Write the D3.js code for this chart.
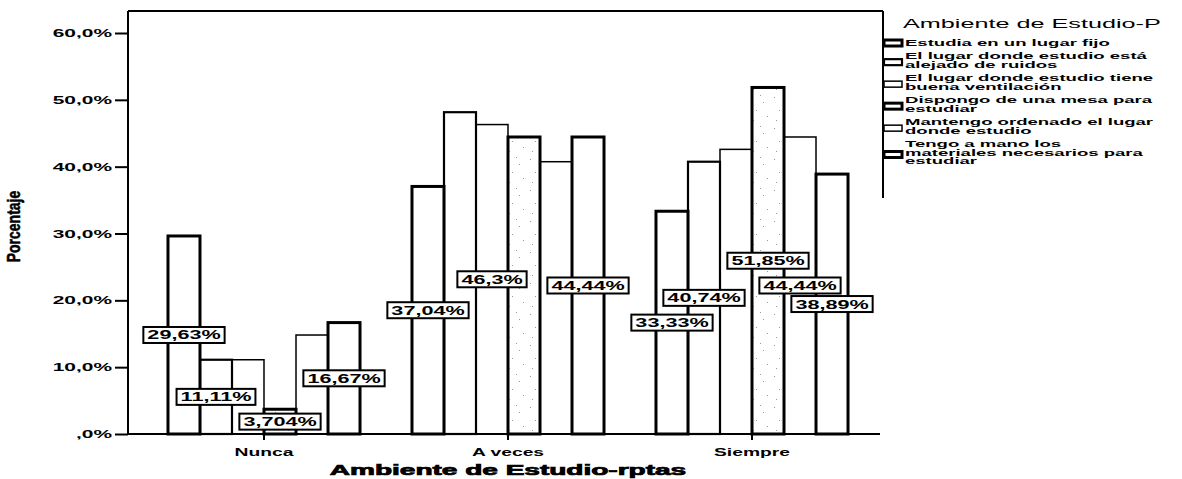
<!DOCTYPE html>
<html><head><meta charset="utf-8">
<script src="https://cdn.jsdelivr.net/npm/d3@7"></script>
<style>html,body{margin:0;padding:0;background:#fff;} svg{display:block;font-family:"Liberation Sans",Arial,sans-serif;}</style>
</head><body><svg id="chart" width="1182" height="479"></svg>
<script>
// ---------------- data ----------------
const categories = ["Nunca", "A veces", "Siempre"];
const seriesNames = [
  "Estudia en un lugar fijo",
  "El lugar  donde estudio está alejado de ruidos",
  "El lugar donde estudio tiene buena ventilación",
  "Dispongo de una mesa para estudiar",
  "Mantengo ordenado el lugar donde estudio",
  "Tengo a mano  los materiales  necesarios para estudiar"
];
const legendLines = [
  ["Estudia en un lugar fijo"],
  ["El lugar  donde estudio está", "alejado de ruidos"],
  ["El lugar donde estudio tiene", "buena ventilación"],
  ["Dispongo de una mesa para", "estudiar"],
  ["Mantengo ordenado el lugar", "donde estudio"],
  ["Tengo a mano  los", "materiales  necesarios para", "estudiar"]
];
const nuncaValues   = [29.63, 11.11, 11.11, 3.704, 14.81, 16.67];
const aVecesValues  = [37.04, 48.15, 46.30, 44.44, 40.74, 44.44];
const siempreValues = [33.33, 40.74, 42.59, 51.85, 44.44, 38.89];
const nuncaLabels   = ["29,63%", "11,11%", null, "3,704%", null, "16,67%"];
const aVecesLabels  = ["37,04%", null, "46,3%", null, null, "44,44%"];
const siempreLabels = ["33,33%", "40,74%", null, "51,85%", "44,44%", "38,89%"];
const yTicks = [0, 10, 20, 30, 40, 50, 60];
const yTickLabels = [",0%", "10,0%", "20,0%", "30,0%", "40,0%", "50,0%", "60,0%"];
const xTitle = "Ambiente de Estudio-rptas";
const yTitle = "Porcentaje";
const legendTitle = "Ambiente de Estudio-P";

const groupValues = [nuncaValues, aVecesValues, siempreValues];
const groupLabels = [nuncaLabels, aVecesLabels, siempreLabels];

// ---------------- styles / layout ----------------
const seriesStroke = [3, 2.2, 1.5, 3, 1.5, 3];
const seriesDotted = [false, false, false, true, false, false];
const plot = {left: 128, top: 11, bottom: 434, right: 883};
const K = 1.9; // horizontal text stretch

const svg = d3.select("#chart");
function stretch(sel, k) {
  sel.each(function () {
    const l = this.getComputedTextLength();
    d3.select(this).attr("textLength", l * k).attr("lengthAdjust", "spacingAndGlyphs");
  });
}

// pattern for dotted series
const defs = svg.append("defs");
const pat = defs.append("pattern").attr("id", "dots").attr("patternUnits", "userSpaceOnUse")
  .attr("width", 23).attr("height", 31);
pat.append("rect").attr("width", 23).attr("height", 31).attr("fill", "#fff");
[[3,4],[15,9],[8,17],[19,23],[5,27],[12,2]].forEach(p =>
  pat.append("rect").attr("x", p[0]).attr("y", p[1]).attr("width", 1).attr("height", 1).attr("fill", "#999"));

// scales
const x0 = d3.scaleBand().domain(categories).range([142, 874]).paddingInner(0.213).paddingOuter(0.1065);
const x1 = d3.scaleBand().domain(d3.range(seriesNames.length)).range([0, x0.bandwidth()]).padding(0);
const y = d3.scaleLinear().domain([0, 60]).range([plot.bottom, 33]);

// bars
const groups = svg.append("g").selectAll("g").data(categories).join("g")
  .attr("transform", d => `translate(${x0(d)},0)`);
groups.each(function (cat, gi) {
  const g = d3.select(this);
  const vals = groupValues[gi];
  const order = d3.range(vals.length).sort((a, b) => seriesStroke[a] - seriesStroke[b]);
  order.forEach(si => {
    g.append("rect")
      .attr("x", x1(si)).attr("width", x1.bandwidth())
      .attr("y", y(vals[si])).attr("height", y(0) - y(vals[si]))
      .attr("fill", seriesDotted[si] ? "url(#dots)" : "#fff")
      .attr("stroke", "#000").attr("stroke-width", seriesStroke[si]);
  });
});

// frame lines
svg.append("line").attr("x1", plot.left).attr("x2", plot.right).attr("y1", plot.top).attr("y2", plot.top)
  .attr("stroke", "#000").attr("stroke-width", 2);
svg.append("line").attr("x1", plot.right).attr("x2", plot.right).attr("y1", plot.top).attr("y2", 198)
  .attr("stroke", "#000").attr("stroke-width", 2);

// y axis
const yAxis = svg.append("g").attr("transform", `translate(${plot.left},0)`)
  .call(d3.axisLeft(y).tickValues(yTicks).tickFormat((d, i) => yTickLabels[i]).tickSize(13).tickPadding(3));
yAxis.select(".domain").remove();
yAxis.selectAll(".tick line").attr("stroke", "#000").attr("stroke-width", 2);
yAxis.selectAll(".tick text").attr("font-size", 11).attr("font-weight", "bold").attr("fill", "#000")
  .attr("font-family", "Liberation Sans, Arial, sans-serif").call(stretch, K);
svg.append("line").attr("x1", plot.left).attr("x2", plot.left).attr("y1", plot.top).attr("y2", plot.bottom + 1)
  .attr("stroke", "#000").attr("stroke-width", 2);

// x axis
const xAxis = svg.append("g").attr("transform", `translate(0,${plot.bottom})`)
  .call(d3.axisBottom(x0).tickSize(6).tickPadding(8));
xAxis.select(".domain").remove();
xAxis.selectAll(".tick line").attr("stroke", "#000").attr("stroke-width", 2);
xAxis.selectAll(".tick text").attr("font-size", 11).attr("fill", "#000").attr("font-weight", "bold")
  .attr("font-family", "Liberation Sans, Arial, sans-serif").call(stretch, 1.75);
svg.append("line").attr("x1", plot.left - 1).attr("x2", plot.right - 3).attr("y1", plot.bottom).attr("y2", plot.bottom)
  .attr("stroke", "#000").attr("stroke-width", 2);

// value labels
groups.each(function (cat, gi) {
  const g = d3.select(this);
  groupLabels[gi].forEach((lab, si) => {
    if (!lab) return;
    const v = groupValues[gi][si];
    const lg = g.append("g").attr("transform", `translate(${x1(si) + x1.bandwidth() / 2},${y(v / 2)})`);
    const r = lg.append("rect").attr("fill", "#fff").attr("stroke", "#000").attr("stroke-width", 2);
    const t = lg.append("text").attr("text-anchor", "middle").attr("y", 4.5)
      .attr("font-size", 12).attr("font-weight", "bold").text(lab).call(stretch, 1.8);
    const w = +t.attr("textLength") + 8;
    r.attr("x", -w / 2).attr("y", -8).attr("width", w).attr("height", 16);
  });
});

// axis titles
svg.append("text").attr("x", x0("A veces") + x0.bandwidth() / 2).attr("y", 475)
  .attr("text-anchor", "middle").attr("font-size", 14).attr("font-weight", "bold")
  .attr("stroke", "#000").attr("stroke-width", 0.7).text(xTitle).call(stretch, 2.0);
svg.append("text").attr("transform", `translate(20,${(plot.top + plot.bottom) / 2 + 4}) rotate(-90) scale(1,1.3)`)
  .attr("text-anchor", "middle").attr("font-size", 14).attr("font-weight", "bold")
  .attr("stroke", "#000").attr("stroke-width", 0.4).text(yTitle);

// legend
const lg = svg.append("g");
lg.append("text").attr("x", 903).attr("y", 28).attr("font-size", 12).text(legendTitle).call(stretch, 2.1);
const lineH = 8.7, itemGap = 4.6;
let cy = 42;
legendLines.forEach((lines, i) => {
  const n = lines.length;
  const item = lg.append("g");
  lines.forEach((ln, j) => {
    item.append("text").attr("x", 905).attr("y", cy + j * lineH + 3.5)
      .attr("font-size", 9.5).attr("font-weight", "bold").text(ln).call(stretch, 1.95);
  });
  const mid = cy + (n - 1) * lineH / 2 + (n > 1 ? 2.5 : 1);
  item.append("rect").attr("x", 884).attr("y", mid - 3).attr("width", 18).attr("height", 6)
    .attr("fill", "#fff").attr("stroke", "#000").attr("stroke-width", seriesStroke[i]);
  cy += n * lineH + itemGap;
});
</script>
</body></html>
